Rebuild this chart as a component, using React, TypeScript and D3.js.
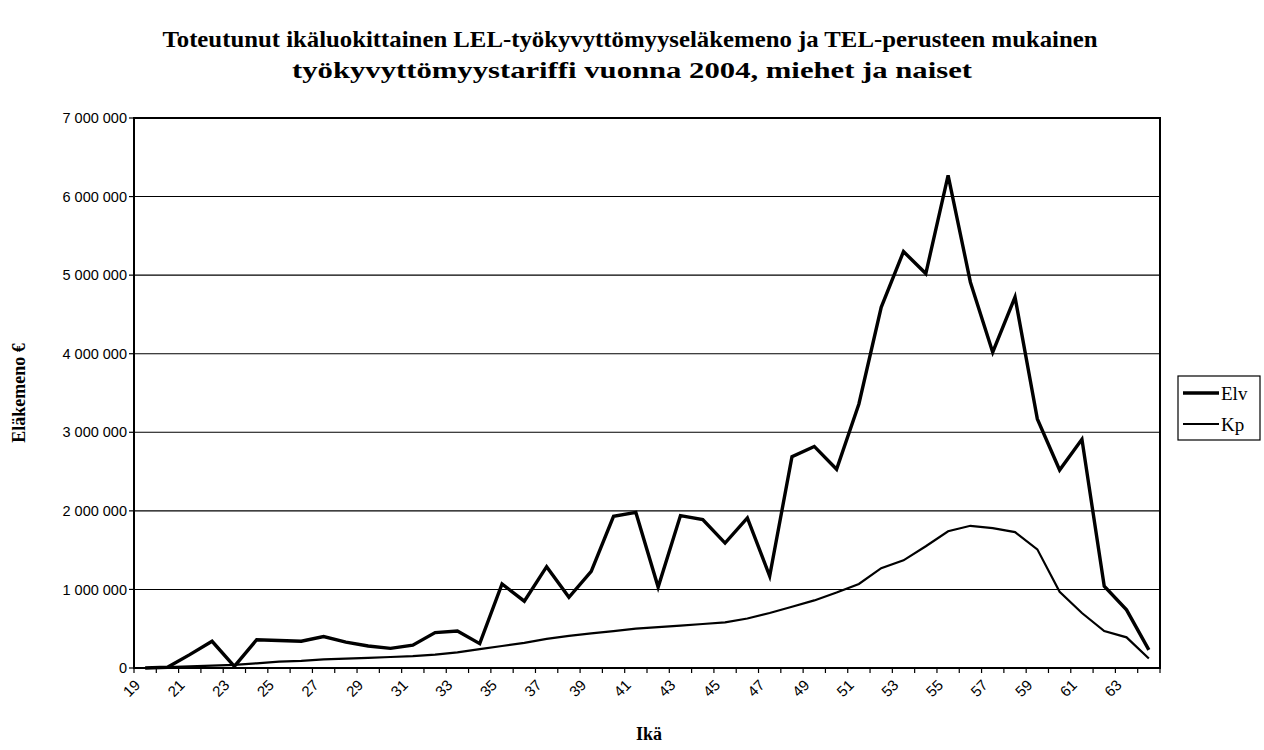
import React, { useEffect, useRef } from 'react';
import * as d3 from 'd3';

// Ikä (age classes)
const ages = [
  19, 20, 21, 22, 23, 24, 25, 26, 27, 28, 29, 30, 31, 32, 33, 34, 35, 36, 37, 38, 39, 40, 41,
  42, 43, 44, 45, 46, 47, 48, 49, 50, 51, 52, 53, 54, 55, 56, 57, 58, 59, 60, 61, 62, 63, 64,
];

// Elv - realised disability pension expenditure, €
const elv = [
  0, 10000, 170000, 340000, 20000, 360000, 350000, 340000, 400000, 330000, 280000, 250000,
  290000, 450000, 470000, 310000, 1070000, 850000, 1290000, 900000, 1230000, 1930000, 1980000,
  1030000, 1940000, 1890000, 1590000, 1910000, 1170000, 2690000, 2820000, 2530000, 3360000,
  4590000, 5300000, 5020000, 6270000, 4910000, 4020000, 4720000, 3170000, 2520000, 2910000,
  1040000, 740000, 230000,
];

// Kp - tariff based expenditure, €
const kp = [
  0, 10000, 20000, 30000, 40000, 60000, 80000, 90000, 110000, 120000, 130000, 140000, 150000,
  170000, 200000, 240000, 280000, 320000, 370000, 410000, 440000, 470000, 500000, 520000, 540000,
  560000, 580000, 630000, 700000, 780000, 860000, 960000, 1070000, 1270000, 1370000, 1550000,
  1740000, 1810000, 1780000, 1730000, 1510000, 970000, 700000, 470000, 390000, 120000,
];

const yTicks = [0, 1000000, 2000000, 3000000, 4000000, 5000000, 6000000, 7000000];

const titleLines = [
  'Toteutunut ikäluokittainen LEL-työkyvyttömyyseläkemeno ja TEL-perusteen mukainen',
  'työkyvyttömyystariffi  vuonna 2004, miehet ja naiset',
];

const series = [
  { name: 'Elv', values: elv, width: 3.4 },
  { name: 'Kp', values: kp, width: 2.2 },
];

const W = 1264;
const H = 750;
const m = { left: 134, right: 1160, top: 118, bottom: 668 };
const sans = '"Liberation Sans", Arial, sans-serif';
const serif = '"Liberation Serif", "Times New Roman", serif';

const fmt = (v: number) => d3.format(',')(v).replace(/,/g, ' ');

export default function App() {
  const ref = useRef<SVGSVGElement | null>(null);

  useEffect(() => {
    const svg = d3.select(ref.current);
    svg.selectAll('*').remove();

    const x = d3.scalePoint<number>().domain(ages).range([m.left, m.right]).padding(0.5);
    const step = x.step();
    const y = d3.scaleLinear().domain([0, 7000000]).range([m.bottom, m.top]);

    svg.append('rect').attr('width', W).attr('height', H).attr('fill', '#fff');

    // title
    const title = svg.append('g').attr('font-family', serif).attr('font-weight', 'bold')
      .attr('font-size', 23).attr('text-anchor', 'middle');
    title.append('text').attr('x', 630).attr('y', 47).attr('textLength', 935)
      .attr('lengthAdjust', 'spacingAndGlyphs').text(titleLines[0]);
    title.append('text').attr('x', 632).attr('y', 78).attr('textLength', 680)
      .attr('lengthAdjust', 'spacingAndGlyphs').text(titleLines[1]);

    // gridlines
    svg.append('g').selectAll('line').data(yTicks.slice(1, -1)).join('line')
      .attr('x1', m.left).attr('x2', m.right)
      .attr('y1', d => y(d)).attr('y2', d => y(d))
      .attr('stroke', '#000').attr('stroke-width', 1.1);

    // plot frame
    svg.append('rect').attr('x', m.left).attr('y', m.top)
      .attr('width', m.right - m.left).attr('height', m.bottom - m.top)
      .attr('fill', 'none').attr('stroke', '#000').attr('stroke-width', 2);

    // y axis
    const yAxis = svg.append('g').attr('font-family', sans).attr('font-size', 14.5);
    yAxis.selectAll('line').data(yTicks).join('line')
      .attr('x1', m.left - 5).attr('x2', m.left)
      .attr('y1', d => y(d)).attr('y2', d => y(d))
      .attr('stroke', '#000').attr('stroke-width', 1.2);
    yAxis.selectAll('text').data(yTicks).join('text')
      .attr('x', m.left - 7).attr('y', d => y(d)).attr('dy', '0.35em')
      .attr('text-anchor', 'end').text(d => fmt(d));

    svg.append('text')
      .attr('transform', `translate(25,${(m.top + m.bottom) / 2}) rotate(-90)`)
      .attr('text-anchor', 'middle').attr('font-family', serif).attr('font-weight', 'bold')
      .attr('font-size', 18).text('Eläkemeno €');

    // x axis
    const tickPos = ages.map(a => (x(a) as number) - step / 2).concat([m.right]);
    const xAxis = svg.append('g');
    xAxis.append('line').attr('x1', m.left).attr('x2', m.right)
      .attr('y1', m.bottom).attr('y2', m.bottom).attr('stroke', '#000').attr('stroke-width', 2);
    xAxis.selectAll('line.tick').data(tickPos).join('line').attr('class', 'tick')
      .attr('x1', d => d).attr('x2', d => d)
      .attr('y1', m.bottom).attr('y2', m.bottom + 5)
      .attr('stroke', '#000').attr('stroke-width', 1.2);
    xAxis.selectAll('text').data(ages.filter((a, i) => i % 2 === 0)).join('text')
      .attr('transform', a => `translate(${(x(a) as number) - 4},${m.bottom + 18}) rotate(-45)`)
      .attr('text-anchor', 'end').attr('font-family', sans).attr('font-size', 15)
      .text(a => String(a));

    svg.append('text').attr('x', (m.left + m.right) / 2 + 2).attr('y', 740)
      .attr('text-anchor', 'middle').attr('font-family', serif).attr('font-weight', 'bold')
      .attr('font-size', 18).text('Ikä');

    // lines
    const line = d3.line<number>()
      .x((d, i) => x(ages[i]) as number)
      .y(d => y(d));
    svg.append('g').selectAll('path').data(series).join('path')
      .attr('d', s => line(s.values))
      .attr('fill', 'none').attr('stroke', '#000')
      .attr('stroke-width', s => s.width).attr('stroke-linejoin', 'miter');

    // legend
    const lg = svg.append('g').attr('transform', 'translate(1178,376)');
    lg.append('rect').attr('width', 82).attr('height', 64)
      .attr('fill', '#fff').attr('stroke', '#000').attr('stroke-width', 1.2);
    const item = lg.selectAll('g').data(series).join('g')
      .attr('transform', (d, i) => `translate(0,${17 + i * 31})`);
    item.append('line').attr('x1', 5).attr('x2', 41)
      .attr('stroke', '#000').attr('stroke-width', s => s.width);
    item.append('text').attr('x', 43).attr('dy', '0.35em')
      .attr('font-family', serif).attr('font-size', 19).text(s => s.name);
  }, []);

  return (
    <svg ref={ref} width={W} height={H}
      style={{ position: 'absolute', left: 0, top: 0, display: 'block' }} />
  );
}
